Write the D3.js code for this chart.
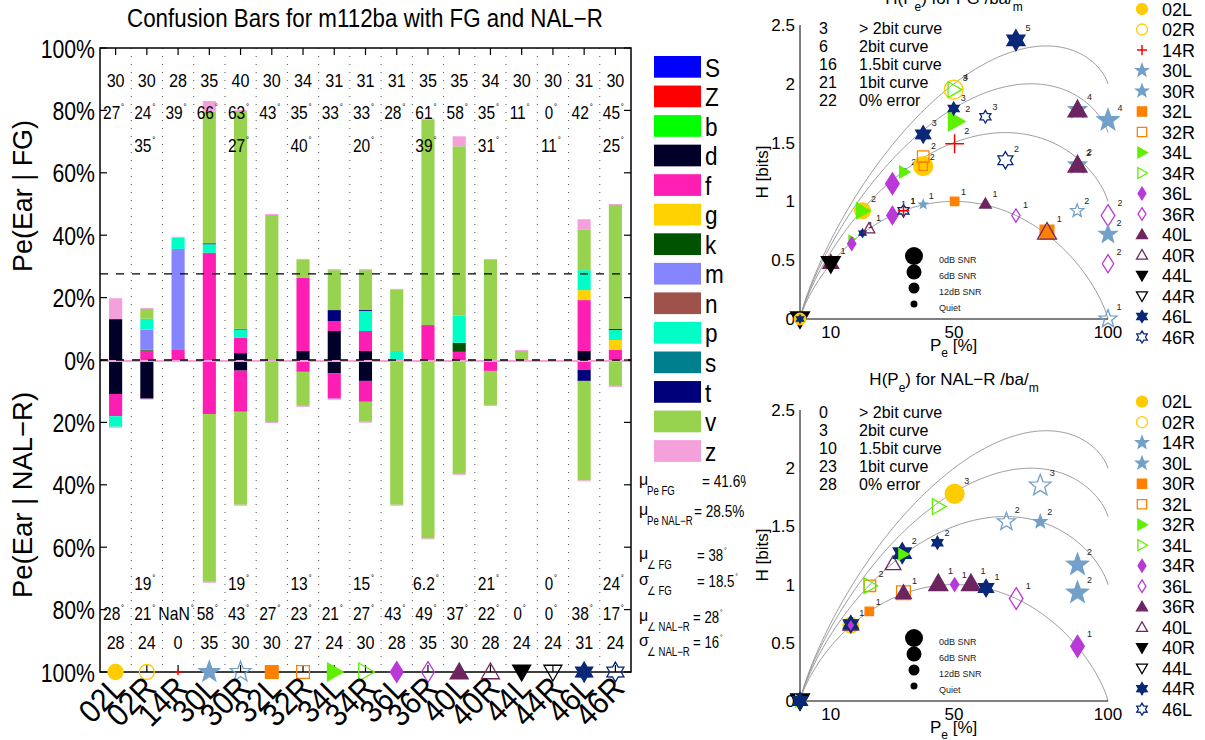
<!DOCTYPE html>
<html>
<head>
<meta charset="utf-8">
<script src="https://cdn.jsdelivr.net/npm/d3@7"></script>
<style>
  body { margin: 0; background: #fff; }
</style>
</head>
<body>
<script>
// ---- data ----
var ears = ['02L','02R','14R','30L','30R','32L','32R','34L','34R','36L','36R','40L','40R','44L','44R','46L','46R'];
var phones = ['S','Z','b','d','f','g','k','m','n','p','s','t','v','z'];
var phoneColors = ['#0000ff','#ff0000','#00ff00','#000028','#ff1eb4','#ffd200','#005400','#8585ff','#9e5249','#00ffc6','#00808f','#00007a','#98d350','#f4a0da'];

// confusion percentages per ear, FG (upwards) and NAL-R (downwards)
var fgBars = [
  {d:13.1, z:6.7},
  {f:3.0, k:0.3, m:6.4, p:3.5, v:3.2, z:0.3},
  {f:3.2, m:32.4, p:3.6, z:0.3},
  {f:34.2, k:0.2, p:2.7, t:0.3, v:42.2, z:3.4},
  {d:2.2, f:5.0, p:2.6, t:0.2, v:69.8, z:0.3},
  {v:46.5, z:0.3},
  {d:2.9, f:23.4, v:5.8, z:0.3},
  {d:9.3, f:3.2, t:3.5, v:12.8, z:0.3},
  {d:2.9, f:6.4, p:6.4, t:0.3, v:12.8, z:0.3},
  {p:2.9, v:19.6, z:0.3},
  {f:11.2, v:65.9, z:0.3},
  {f:2.6, k:2.9, p:8.7, v:54.3, z:3.2},
  {v:32.1, z:0.3},
  {v:2.9, z:0.3},
  {},
  {d:2.9, f:16.3, g:3.2, p:6.4, v:12.9, z:3.4},
  {f:3.2, g:3.2, p:3.2, t:0.3, v:39.8, z:0.3}
];
var nalBars = [
  {d:10.9, f:7.1, p:3.4, z:0.3},
  {d:12.4, z:0.3},
  {},
  {f:17.3, v:53.8, z:0.3},
  {d:3.4, f:13.2, v:29.8, z:0.3},
  {v:19.9, z:0.3},
  {f:3.8, v:10.9, z:0.3},
  {d:4.2, f:8.2, z:0.3},
  {d:6.7, f:6.7, v:6.4, z:0.3},
  {v:46.4, z:0.3},
  {v:57.2, z:0.3},
  {v:36.5, z:0.3},
  {f:3.5, v:10.9, z:0.3},
  {},
  {},
  {f:3.2, t:3.5, v:31.9, z:0.3},
  {v:8.3, z:0.3}
];
var fgMeanLine = 27.6;

var fgCounts  = [30,30,28,35,40,30,34,31,31,31,35,35,34,30,30,31,30];
var fgAngles  = ['27','24','39','66','63','43','35','33','33','28','61','58','35','11','0','42','45'];
var fgAngles2 = ['','35','','','27','','40','','20','','39','','31','','11','','25'];
var nalAngles2 = ['','19','','','19','','13','','15','','6.2','','21','','0','','24'];
var nalAngles = ['28','21','NaN','58','43','27','23','21','27','43','49','37','22','0','0','38','17'];
var nalCounts = [28,24,0,35,30,30,27,24,30,28,35,30,28,24,24,31,24];

var statRows = [
  {sym:'\u03bc', sub:'Pe FG',      val:'= 41.6%', deg:false},
  {sym:'\u03bc', sub:'Pe NAL\u2212R', val:'= 28.5%', deg:false},
  {sym:'\u03bc', sub:'\u2220 FG',      val:'= 38',   deg:true},
  {sym:'\u03c3', sub:'\u2220 FG',      val:'= 18.5', deg:true},
  {sym:'\u03bc', sub:'\u2220 NAL\u2212R', val:'= 28', deg:true},
  {sym:'\u03c3', sub:'\u2220 NAL\u2212R', val:'= 16', deg:true}
];

// marker style per ear
var earStyle = {
  '02L':['circle','#ffcc00',true], '02R':['circle','#ffcc00',false],
  '14R':['plus','#ff0000',false],
  '30L':['star','#73a0c8',true],   '30R':['star','#73a0c8',false],
  '32L':['square','#ff8000',true], '32R':['square','#ff8000',false],
  '34L':['triR','#5ef000',true],   '34R':['triR','#5ef000',false],
  '36L':['diamond','#b838d8',true],'36R':['diamond','#b838d8',false],
  '40L':['triU','#6d2560',true],   '40R':['triU','#6d2560',false],
  '44L':['triD','#000000',true],   '44R':['triD','#000000',false],
  '46L':['hex','#0a2878',true],    '46R':['hex','#0a2878',false]
};

// H(Pe) scatter: [ear, Pe %, H bits, SNR index (0dB,6dB,12dB,Quiet), count label]
var fgPoints = [
  ['44L',0,0,0,''], ['44R',0,0,1,''], ['02L',0,0,2,''], ['46L',0,0,3,''],
  ['40L',10.0,0.48,1,''], ['44L',10.0,0.47,0,'1'],
  ['34L',16.8,0.68,3,''], ['36L',16.8,0.64,2,''],
  ['46L',20.3,0.73,3,'1'], ['40R',22.4,0.77,2,'1'],
  ['02L',20.3,0.92,1,''], ['34L',20.3,0.92,1,'2'],
  ['36L',30.0,0.88,1,'1'], ['46R',33.6,0.92,2,'1'], ['14R',33.6,0.92,2,'1'],
  ['30L',40.0,0.975,3,'1'], ['32L',50.2,1.00,2,'1'], ['40L',60.2,0.98,2,'1'],
  ['36R',70.1,0.88,2,'1'], ['32L',80.2,0.74,0,''], ['40R',80.2,0.74,0,'1'],
  ['36L',30.0,1.15,0,'2'], ['34L',33.8,1.25,2,'2'],
  ['02L',40.0,1.30,0,''], ['32R',40.0,1.30,2,'2'], ['32R',40.0,1.38,1,'2'],
  ['46L',40.0,1.57,1,'3'], ['14R',50.2,1.49,0,'2'], ['34L',50.5,1.68,0,'2'],
  ['46L',49.9,1.79,2,'3'], ['02R',49.9,1.95,0,'4'], ['34R',50.0,1.95,1,'3'],
  ['46R',60.2,1.72,2,'3'], ['46R',66.7,1.35,1,'2'], ['46L',70.1,2.37,0,'5'],
  ['30L',90.1,1.78,1,''], ['40L',90.1,1.78,0,'4'],
  ['30L',90.1,1.31,1,'2'], ['40L',90.1,1.31,0,'2'],
  ['30R',90.0,0.92,2,'2'], ['30L',100,1.69,0,'4'],
  ['36R',100,0.88,0,'2'], ['30L',100,0.72,1,'2'], ['36R',100,0.47,1,'2'],
  ['30R',100,0,1,'1']
];
var nalPoints = [
  ['44L',0,0,0,''], ['34L',0,0,2,''], ['46L',0,0,1,''],
  ['02L',16.5,0.65,1,''], ['40L',16.5,0.66,1,''], ['46L',16.5,0.66,1,'1'], ['36L',16.5,0.65,3,''],
  ['32L',22.5,0.77,2,'1'], ['32R',22.7,0.99,1,''], ['34R',22.7,0.99,1,'2'],
  ['40R',30.2,1.18,1,''], ['46L',33.2,1.27,0,'2'], ['34L',33.5,1.26,2,''],
  ['32R',33.6,0.93,0,''], ['40L',33.6,0.93,1,'1'],
  ['40L',44.9,1.01,0,'1'], ['36L',50.2,1.00,2,'1'], ['40L',55.5,1.01,0,'1'],
  ['46L',60.4,0.97,1,'1'], ['36R',70.2,0.88,0,'1'],
  ['46L',44.6,1.36,2,'2'], ['34R',44.9,1.67,1,'3'], ['02L',50.2,1.78,0,'3'],
  ['30R',67,1.54,1,'2'], ['30L',78,1.54,2,'2'], ['30R',78,1.85,0,'3'],
  ['30L',90.1,1.17,0,'2'], ['30L',90.1,0.93,0,'2'], ['36L',90.1,0.47,0,'1']
];
var curveAlternatives = [4, 3, 2, 1];   // number of confusion alternatives per curve
var curveNames = ['> 2bit curve','2bit curve','1.5bit curve','1bit curve','0% error'];
var fgCurveCounts = [3, 6, 16, 21, 22];
var nalCurveCounts = [0, 3, 10, 23, 28];
var snrNames = ['0dB SNR','6dB SNR','12dB SNR','Quiet'];
var topLegendKeys = ['02L','02R','14R','30L','30L','32L','32R','34L','34R','36L','36R','40L','40R','44L','44R','46L','46R'];
var bottomLegendLabels = ears.slice(0, 16);
var bottomLegendKeys = ['02L','02R','30L','30L','32L','32R','34L','34R','36L','36R','40L','40R','44L','44R','46L','46R'];

// ---- helpers ----
var svg = d3.select('body').append('svg')
  .attr('width', 1205).attr('height', 740)
  .style('font-family', "'Liberation Sans', Arial, Helvetica, sans-serif");

function squeeze(sel, k) {
  sel.each(function() {
    var w = this.getComputedTextLength();
    d3.select(this).attr('textLength', w * k).attr('lengthAdjust', 'spacingAndGlyphs');
  });
  return sel;
}

function shapePath(shape, r) {
  var p = d3.path(), i, a, rr;
  if (shape === 'circle') { p.moveTo(r, 0); p.arc(0, 0, r, 0, 2 * Math.PI); }
  else if (shape === 'square') { var s = r * 0.85; p.rect(-s, -s, 2 * s, 2 * s); }
  else if (shape === 'triR') { p.moveTo(r, 0); p.lineTo(-r * 0.75, -r); p.lineTo(-r * 0.75, r); p.closePath(); }
  else if (shape === 'triU') { p.moveTo(0, -r); p.lineTo(r, r * 0.75); p.lineTo(-r, r * 0.75); p.closePath(); }
  else if (shape === 'triD') { p.moveTo(0, r); p.lineTo(r, -r * 0.75); p.lineTo(-r, -r * 0.75); p.closePath(); }
  else if (shape === 'diamond') { p.moveTo(0, -r * 1.15); p.lineTo(r * 0.72, 0); p.lineTo(0, r * 1.15); p.lineTo(-r * 0.72, 0); p.closePath(); }
  else if (shape === 'star') {
    for (i = 0; i < 10; i++) {
      a = -Math.PI / 2 + i * Math.PI / 5; rr = i % 2 ? r * 0.5 : r * 1.2;
      if (i) p.lineTo(rr * Math.cos(a), rr * Math.sin(a)); else p.moveTo(rr * Math.cos(a), rr * Math.sin(a));
    }
    p.closePath();
  }
  else if (shape === 'hex') {
    for (i = 0; i < 12; i++) {
      a = -Math.PI / 2 + i * Math.PI / 6; rr = i % 2 ? r * 0.64 : r * 1.1;
      if (i) p.lineTo(rr * Math.cos(a), rr * Math.sin(a)); else p.moveTo(rr * Math.cos(a), rr * Math.sin(a));
    }
    p.closePath();
  }
  else if (shape === 'plus') { p.moveTo(-r, 0); p.lineTo(r, 0); p.moveTo(0, -r); p.lineTo(0, r); }
  return p.toString();
}

function marker(g, ear, x, y, r) {
  var st = earStyle[ear];
  return g.append('path')
    .attr('transform', 'translate(' + x + ',' + y + ')')
    .attr('d', shapePath(st[0], r))
    .attr('fill', st[2] ? st[1] : 'none')
    .attr('stroke', st[1])
    .attr('stroke-width', st[0] === 'plus' ? 1.5 : 1.3);
}

function degText(g, x, y, num, size, anchor) {
  var t = g.append('text').attr('x', x).attr('y', y)
    .attr('text-anchor', anchor || 'middle').attr('font-size', size);
  t.append('tspan').text(num);
  t.append('tspan').attr('font-size', size * 0.5).attr('dy', -size * 0.5).attr('dx', 1).text('\u00b0');
  return t;
}

// ---- left panel: confusion bars ----
var xBand = d3.scaleBand().domain(ears).range([100, 631]);
var yPct = d3.scaleLinear().domain([-100, 100]).range([672, 48]);
var barW = xBand.bandwidth() * 0.42;
var cx = function(e) { return xBand(e) + xBand.bandwidth() / 2; };

var left = svg.append('g');

left.append('g').selectAll('line').data(ears.slice(1)).join('line')
  .attr('x1', d => xBand(d)).attr('x2', d => xBand(d))
  .attr('y1', 48).attr('y2', 672)
  .attr('stroke', '#555').attr('stroke-dasharray', '1,7');

var stack = d3.stack().keys(phones).value((d, k) => d[k] || 0);

function drawStack(bars, dir) {
  var series = stack(bars);
  left.append('g').selectAll('g').data(series).join('g')
    .attr('fill', d => phoneColors[phones.indexOf(d.key)])
    .selectAll('rect')
    .data(d => d.map((s, i) => ({ear: ears[i], a: s[0] * dir, b: s[1] * dir})).filter(s => s.a !== s.b))
    .join('rect')
    .attr('x', d => cx(d.ear) - barW / 2)
    .attr('width', barW)
    .attr('y', d => Math.min(yPct(d.a), yPct(d.b)))
    .attr('height', d => Math.abs(yPct(d.a) - yPct(d.b)));
}
drawStack(fgBars, 1);
drawStack(nalBars, -1);

// zero line and mean line
left.append('line').attr('x1', 100).attr('x2', 631).attr('y1', yPct(0) + 1).attr('y2', yPct(0) + 1)
  .attr('stroke', '#f4a0da').attr('stroke-width', 2);
left.append('line').attr('x1', 100).attr('x2', 631).attr('y1', yPct(0)).attr('y2', yPct(0))
  .attr('stroke', '#000').attr('stroke-width', 1.3).attr('stroke-dasharray', '8,8');
left.append('line').attr('x1', 100).attr('x2', 631).attr('y1', yPct(fgMeanLine)).attr('y2', yPct(fgMeanLine))
  .attr('stroke', '#000').attr('stroke-width', 1.3).attr('stroke-dasharray', '8,8');

// frame and ticks
left.append('rect').attr('x', 100).attr('y', 48).attr('width', 531).attr('height', 624)
  .attr('fill', 'none').attr('stroke', '#000').attr('stroke-width', 1.5);
var yTicks = d3.range(-100, 101, 20);
var tk = left.append('g').attr('stroke', '#000').attr('stroke-width', 1.2);
ears.forEach(function(e) {
  tk.append('line').attr('x1', cx(e)).attr('x2', cx(e)).attr('y1', 48).attr('y2', 55);
  tk.append('line').attr('x1', cx(e)).attr('x2', cx(e)).attr('y1', 672).attr('y2', 665);
});
yTicks.forEach(function(v) {
  tk.append('line').attr('x1', 100).attr('x2', 107).attr('y1', yPct(v)).attr('y2', yPct(v));
  tk.append('line').attr('x1', 631).attr('x2', 624).attr('y1', yPct(v)).attr('y2', yPct(v));
});

// y tick labels
left.append('g').selectAll('text').data(yTicks).join('text')
  .attr('x', 95).attr('y', d => yPct(d) + 9.5)
  .attr('text-anchor', 'end').attr('font-size', 25)
  .text(d => Math.abs(d) + '%')
  .call(squeeze, 0.85);

// axis titles
left.append('text').attr('transform', 'translate(32,196) rotate(-90)')
  .attr('text-anchor', 'middle').attr('font-size', 28).text('Pe(Ear | FG)').call(squeeze, 0.96);
left.append('text').attr('transform', 'translate(32,495) rotate(-90)')
  .attr('text-anchor', 'middle').attr('font-size', 28).text('Pe(Ear | NAL\u2212R)').call(squeeze, 0.98);
left.append('text').attr('x', 365).attr('y', 27).attr('text-anchor', 'middle')
  .attr('font-size', 25).attr('textLength', 476).attr('lengthAdjust', 'spacingAndGlyphs')
  .text('Confusion Bars for m112ba with FG and NAL\u2212R');

// rows of counts and angles
var rows = left.append('g');
ears.forEach(function(e, i) {
  var c = cx(e);
  squeeze(rows.append('text').attr('x', c).attr('y', 87).attr('text-anchor', 'middle').attr('font-size', 19).text(fgCounts[i]), 0.85);
  squeeze(degText(rows, c - 2, 119, fgAngles[i], 19), 0.85);
  if (fgAngles2[i]) squeeze(degText(rows, c - 2, 152, fgAngles2[i], 19), 0.85);
  if (nalAngles2[i]) squeeze(degText(rows, c - 2, 590, nalAngles2[i], 19), 0.85);
  squeeze(degText(rows, c - 2, 620, nalAngles[i], 19), 0.85);
  squeeze(rows.append('text').attr('x', c).attr('y', 649).attr('text-anchor', 'middle').attr('font-size', 19).text(nalCounts[i]), 0.85);
});

// ear markers on the bottom axis and rotated labels
var mk = left.append('g');
ears.forEach(function(e) {
  var sh = earStyle[e][0];
  var r = sh === 'plus' ? 3 : (sh === 'square' ? 7.5 : (sh === 'circle' ? 7.5 : 9));
  marker(mk, e, cx(e), 672, r);
});
left.append('g').selectAll('text').data(ears).join('text')
  .attr('transform', d => 'translate(' + (cx(d) + 11) + ',690) rotate(-45)')
  .attr('text-anchor', 'end').attr('font-size', 32)
  .text(d => d)
  .call(squeeze, 0.92);

// phoneme legend
var leg = left.append('g');
phones.forEach(function(p, i) {
  var yy = 56 + i * 29.55;
  leg.append('rect').attr('x', 654).attr('y', yy).attr('width', 47).attr('height', 21.7).attr('fill', phoneColors[i]);
  squeeze(leg.append('text').attr('x', 705).attr('y', yy + 20.5).attr('font-size', 25).text(p), 0.9);
});

// summary statistics
var statBase = [487, 517, 561, 587, 623, 648];
var statValX = [702, 694, 697, 697, 693, 693];
var st = left.append('g');
statRows.forEach(function(r, i) {
  var b = statBase[i];
  st.append('text').attr('x', 639).attr('y', b - 2).attr('font-size', 16).text(r.sym);
  squeeze(st.append('text').attr('x', 647).attr('y', b + 8).attr('font-size', 12).text(r.sub), 0.8);
  var t = r.deg ? degText(st, statValX[i], b, r.val, 16, 'start') :
    st.append('text').attr('x', statValX[i]).attr('y', b).attr('font-size', 16).text(r.val);
  squeeze(t, 0.85);
});

// ---- right panels: H(Pe) ----
svg.append('rect').attr('x', 746).attr('y', 0).attr('width', 459).attr('height', 740).attr('fill', '#fff');

var snrR = [9, 7.5, 5.5, 3.5];

function entropy(p, n) {
  var a = p > 0 ? -p * Math.log2(p / n) : 0;
  var b = p < 1 ? -(1 - p) * Math.log2(1 - p) : 0;
  return a + b;
}

function hPlot(cfg) {
  var xs = d3.scaleLinear().domain([0, 100]).range([800, 1108]);
  var ys = d3.scaleLinear().domain([0, 2.5]).range([cfg.axisY, cfg.topY]);
  var g = svg.append('g').attr('font-size', 17);

  // reference curves H(Pe) for n alternatives
  var line = d3.line().x(d => xs(d[0])).y(d => ys(d[1]));
  var pes = d3.range(0, 100.001, 0.5);
  curveAlternatives.forEach(function(n) {
    g.append('path').attr('d', line(pes.map(pe => [pe, entropy(pe / 100, n)])))
      .attr('fill', 'none').attr('stroke', '#9a9a9a').attr('stroke-width', 1);
  });

  g.append('line').attr('x1', 800).attr('x2', 1108).attr('y1', cfg.axisY).attr('y2', cfg.axisY).attr('stroke', '#000');
  g.append('line').attr('x1', 800).attr('x2', 800).attr('y1', cfg.axisY).attr('y2', cfg.topY).attr('stroke', '#000');

  g.append('g').selectAll('text').data([0, 0.5, 1, 1.5, 2, 2.5]).join('text')
    .attr('x', 795).attr('y', d => ys(d) + 6).attr('text-anchor', 'end').text(d => d);
  g.append('g').selectAll('text').data([10, 50, 100]).join('text')
    .attr('x', d => xs(d)).attr('y', cfg.axisY + 19).attr('text-anchor', 'middle').text(d => d);

  var xl = g.append('text').attr('x', 930).attr('y', cfg.axisY + 32);
  xl.append('tspan').text('P');
  xl.append('tspan').attr('dy', 6).attr('font-size', 12).text('e');
  xl.append('tspan').attr('dy', -6).text(' [%]');
  g.append('text').attr('transform', 'translate(768,' + cfg.yLabel + ') rotate(-90)')
    .attr('text-anchor', 'middle').text('H [bits]');

  var tt = g.append('text').attr('x', 954).attr('y', cfg.titleY).attr('text-anchor', 'middle');
  tt.append('tspan').text('H(P');
  tt.append('tspan').attr('dy', 7).attr('font-size', 12).text('e');
  tt.append('tspan').attr('dy', -7).text(') for ' + cfg.aid + ' /ba/');
  tt.append('tspan').attr('dy', 7).attr('font-size', 12).text('m');

  cfg.counts.forEach(function(c, i) {
    g.append('text').attr('x', 819).attr('y', cfg.blockY + i * 18).attr('font-size', 16).text(c);
    g.append('text').attr('x', 859).attr('y', cfg.blockY + i * 18).attr('font-size', 16).text(curveNames[i]);
  });

  snrNames.forEach(function(s, i) {
    g.append('circle').attr('cx', 914).attr('cy', cfg.snrY + i * 16).attr('r', snrR[i]).attr('fill', '#000');
    g.append('text').attr('x', 939).attr('y', cfg.snrY + i * 16 + 7).attr('font-size', 9).attr('fill', '#222').text(s);
  });

  var pg = g.append('g');
  cfg.points.forEach(function(p) {
    var r = snrR[p[3]] * (earStyle[p[0]][0] === 'square' ? 0.9 : 1.05);
    var px = xs(p[1]), py = ys(p[2]);
    marker(pg, p[0], px, py, r);
    if (p[4]) pg.append('text').attr('x', px + r * 0.7 + 3).attr('y', py - r * 0.7 - 3)
      .attr('font-size', 9).attr('fill', '#222').text(p[4]);
  });

  cfg.legendLabels.forEach(function(l, i) {
    var yy = cfg.legendY + i * 20.5;
    var key = cfg.legendKeys[i];
    marker(g, key, 1142, yy, earStyle[key][0] === 'plus' ? 5 : 5.5);
    g.append('text').attr('x', 1162).attr('y', yy + 6.5).attr('font-size', 18).text(l);
  });
}

hPlot({axisY: 319, topY: 25, titleY: 4, yLabel: 172, blockY: 34, snrY: 256, legendY: 9,
  aid: 'FG', counts: fgCurveCounts, points: fgPoints, legendLabels: ears, legendKeys: topLegendKeys});
hPlot({axisY: 701, topY: 410, titleY: 385, yLabel: 555, blockY: 418, snrY: 638, legendY: 401.7,
  aid: 'NAL\u2212R', counts: nalCurveCounts, points: nalPoints, legendLabels: bottomLegendLabels, legendKeys: bottomLegendKeys});
</script>
</body>
</html>
